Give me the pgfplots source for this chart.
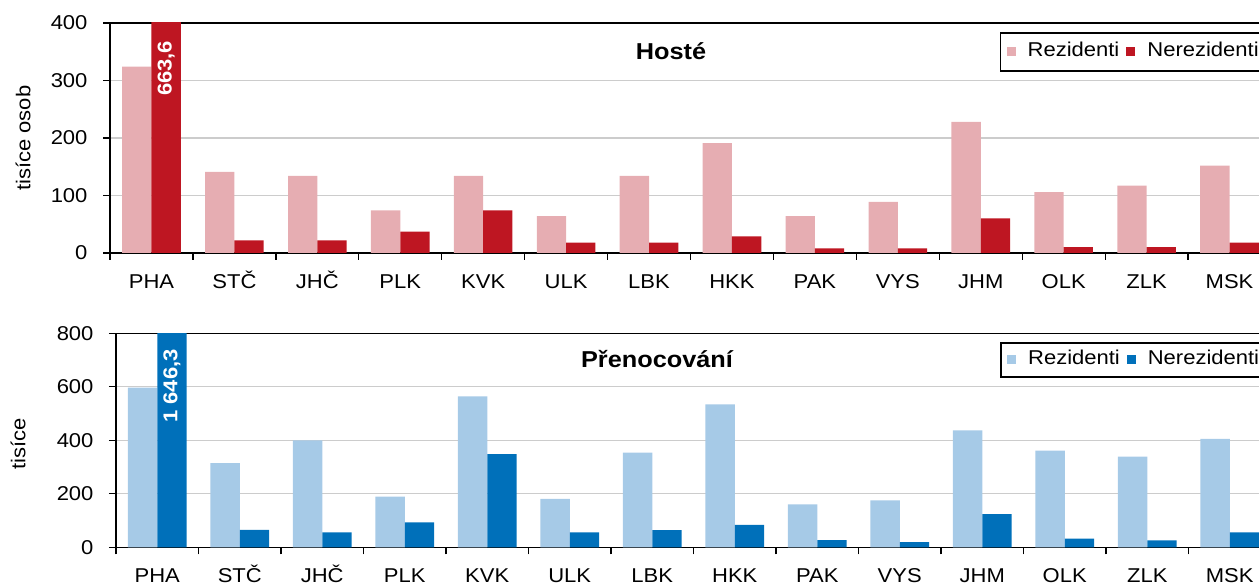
\documentclass[border=0pt]{standalone}
\usepackage{fontspec}
\setmainfont{Liberation Sans}[FakeStretch=1.1]
\usepackage{pgfplots}
\pgfplotsset{compat=1.18}
\definecolor{rezR}{HTML}{E6ADB2}
\definecolor{nerR}{HTML}{BE1622}
\definecolor{rezB}{HTML}{A6CAE7}
\definecolor{nerB}{HTML}{0070BA}
\definecolor{gridc}{HTML}{CCCCCC}
\newcommand{\fs}{\fontsize{20}{24}\selectfont}
\pgfplotsset{
  mystyle/.style={
    scale only axis,
    anchor=south west,
    ybar=0pt,
    bar width=29.3pt,
    xmin=-0.5, xmax=13.5,
    xtick={0,...,13},
    xticklabels={PHA,STČ,JHČ,PLK,KVK,ULK,LBK,HKK,PAK,VYS,JHM,OLK,ZLK,MSK},
    minor xtick={-0.5,0.5,...,13.5},
    major x tick style={draw=none},
    minor x tick style={black, line width=1.3pt},
    minor tick length=7pt,
    major tick length=7pt,
    tick align=outside,
    xtick pos=lower, ytick pos=left,
    ymajorgrids, xminorgrids=false,
    major grid style={gridc, line width=1.3pt},
    axis line style={black, line width=1.3pt},
    y tick style={black, line width=1.3pt},
    tick label style={font=\fs},
    /pgf/number format/assume math mode=true,
    xticklabel style={anchor=north, text height=15pt, text depth=0pt, yshift=-10pt},
    yticklabel style={xshift=-12pt},
    legend columns=2,
    legend image code/.code={\fill[#1,draw=none] (0pt,-4.5pt) rectangle (9pt,4.5pt);},
    legend style={anchor=north west, draw=black, line width=1.3pt, font=\fs,
      inner xsep=6pt, inner ysep=10pt,
      nodes={inner sep=0pt, text height=14pt, text depth=4pt},
      /tikz/every odd column/.append style={column sep=12pt},
      /tikz/every even column/.append style={column sep=7pt}},
  }
}
\begin{document}
\begin{tikzpicture}[x=1pt,y=1pt]
\begin{axis}[mystyle, at={(110pt,330pt)}, width=1161pt, height=230pt,
  ymin=0, ymax=400, ytick={0,100,200,300,400},
  legend style={at={(axis description cs:0.7666,0.9596)}}]
\addplot[fill=rezR, draw=none] coordinates {(0,324) (1,141) (2,134) (3,74) (4,134) (5,64) (6,134) (7,191) (8,64) (9,89) (10,228) (11,106) (12,117) (13,152)};
\addplot[fill=nerR, draw=none] coordinates {(0,663.6) (1,22) (2,22) (3,37) (4,74) (5,18) (6,18) (7,29) (8,8) (9,8) (10,60) (11,10) (12,10) (13,18)};
\legend{Rezidenti,Nerezidenti}
\node[rotate=90, text=white, font=\fs\bfseries] at (axis cs:0.1767,321) {663,6};
\end{axis}
\begin{axis}[mystyle, at={(116pt,35.7pt)}, width=1155pt, height=214pt,
  ymin=0, ymax=800, ytick={0,200,400,600,800},
  legend style={at={(axis description cs:0.7658,0.958)}, inner ysep=8pt}]
\addplot[fill=rezB, draw=none] coordinates {(0,597) (1,315) (2,400) (3,189) (4,564) (5,181) (6,354) (7,534) (8,160) (9,175) (10,437) (11,361) (12,339) (13,405)};
\addplot[fill=nerB, draw=none] coordinates {(0,1646.3) (1,65) (2,56) (3,93) (4,348) (5,56) (6,64) (7,84) (8,27) (9,19) (10,124) (11,32) (12,26) (13,56)};
\legend{Rezidenti,Nerezidenti}
\node[rotate=90, text=white, font=\fs\bfseries] at (axis cs:0.1776,603) {1 646,3};
\end{axis}
\node[font=\fontsize{23}{27}\selectfont\bfseries] at (671pt,532pt) {Hosté};
\node[font=\fontsize{23}{27}\selectfont\bfseries] at (657pt,224pt) {Přenocování};
\node[rotate=90, font=\fs] at (23pt,444.7pt) {tisíce osob};
\node[rotate=90, font=\fs] at (18pt,139pt) {tisíce};
\pgfresetboundingbox
\useasboundingbox (0,0) rectangle (1259pt,583pt);
\end{tikzpicture}
\end{document}
